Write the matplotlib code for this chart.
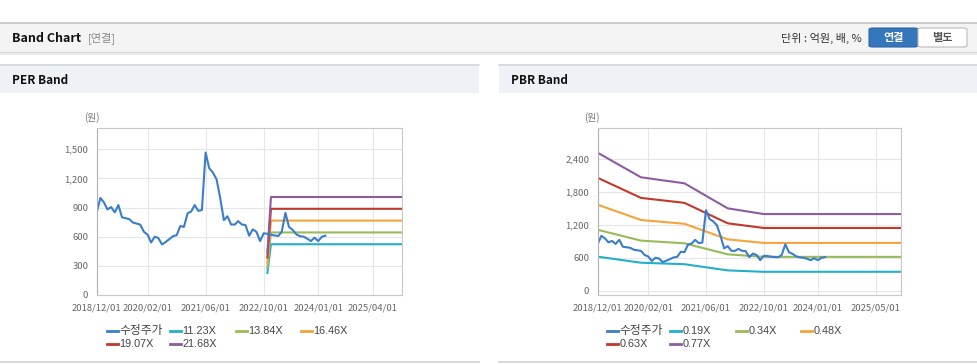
from matplotlib import pyplot as plt, patches
from matplotlib.lines import Line2D
import numpy as np
import pandas as pd

plt.rcParams['font.family'] = ['Noto Sans CJK KR', 'DejaVu Sans']

W, H = 978, 364

# monthly adjusted price (수정주가), 2018-12 .. 2024-03
price_dates = pd.date_range('2018-12-01', '2024-03-01', freq='MS')
price = [850, 998, 950, 880, 905, 850, 925, 800, 790, 780, 745, 735,
         724, 650, 620, 540, 600, 585, 520, 545, 575, 605, 615, 710,
         700, 840, 860, 925, 865, 875, 1465, 1305, 1260, 1190, 1000, 770,
         810, 725, 725, 760, 725, 720, 610, 675, 650, 555, 635, 630,
         620, 612, 608, 650, 845, 700, 670, 625, 605, 600, 580, 555,
         590, 555, 600, 610]

# PER band: EPS used for band lines
eps_dates = ['2022-11-01', '2022-12-01', '2025-12-01']
eps = [20.2, 46.5, 46.5]
per_mult = [11.23, 13.84, 16.46, 19.07, 21.68]
per_labels = ['11.23X', '13.84X', '16.46X', '19.07X', '21.68X']

# PBR band: BPS used for band lines
bps_dates = ['2018-12-01', '2019-12-01', '2020-12-01', '2021-12-01',
             '2022-07-01', '2022-10-01', '2025-12-01']
bps = [3258, 2678, 2536, 1945, 1851, 1810, 1810]
pbr_mult = [0.19, 0.34, 0.48, 0.63, 0.77]
pbr_labels = ['0.19X', '0.34X', '0.48X', '0.63X', '0.77X']

per_ticks = ['2018-12-01', '2020-02-01', '2021-06-01', '2022-10-01', '2024-01-01', '2025-04-01']
pbr_ticks = ['2018-12-01', '2020-02-01', '2021-06-01', '2022-10-01', '2024-01-01', '2025-05-01']

price_color = '#3a7dc9'
band_colors = ['#22b0c8', '#98bb5a', '#f4a43c', '#c0392b', '#8e5ba0']


def fx(x):
    return x / W


def fy(y):
    return 1 - y / H


fig = plt.figure(figsize=(W / 100, H / 100), dpi=100)
fig.patch.set_facecolor('white')


def rect(x0, y0, x1, y1, fc):
    r = patches.Rectangle((fx(x0), fy(y1)), fx(x1) - fx(x0), fy(y0) - fy(y1),
                          transform=fig.transFigure, facecolor=fc, edgecolor='none')
    fig.add_artist(r)


def hline(x0, x1, y, color, lw=1):
    fig.add_artist(Line2D([fx(x0), fx(x1)], [fy(y), fy(y)], transform=fig.transFigure,
                          color=color, linewidth=lw))


# top bar
rect(0, 22, W, 52, '#f4f4f4')
hline(0, W, 22.5, '#c4c4c4', 1.2)
hline(0, W, 52.5, '#d0d0d0', 1.2)
hline(0, W, 54, '#ececec', 1.5)
fig.text(fx(12), fy(38), 'Band Chart', fontsize=9, fontweight='bold', va='center', color='#111')
fig.text(fx(88), fy(38), '[연결]', fontsize=8, va='center', color='#888888')
fig.text(fx(862), fy(38), '단위 : 억원, 배, %', fontsize=8, va='center', ha='right', color='#333')
b1 = patches.FancyBboxPatch((fx(869), fy(47)), fx(49), 19 / H, boxstyle='round,pad=0,rounding_size=0.004',
                            transform=fig.transFigure, facecolor='#3577bb', edgecolor='#2d68a6', linewidth=0.8)
fig.add_artist(b1)
b2 = patches.FancyBboxPatch((fx(918), fy(47)), fx(49), 19 / H, boxstyle='round,pad=0,rounding_size=0.004',
                            transform=fig.transFigure, facecolor='white', edgecolor='#bbbbbb', linewidth=0.8)
fig.add_artist(b2)
fig.text(fx(893.5), fy(38), '연결', fontsize=8, fontweight='bold', va='center', ha='center', color='white')
fig.text(fx(942.5), fy(38), '별도', fontsize=8, fontweight='bold', va='center', ha='center', color='#555')

# panel headers
for x0, x1, title in [(0, 479, 'PER Band'), (499, W, 'PBR Band')]:
    rect(x0, 64, x1, 93, '#eef2f7')
    hline(x0, x1, 64.5, '#d4d8dc', 1.2)
    hline(x0, x1, 362, '#d4d4d4', 1.2)
    fig.text(fx(x0 + 12), fy(80), title, fontsize=8.5, fontweight='bold', va='center', color='#111')


def setup_axes(ax, ylim, yticks, ticks):
    ax.set_xlim(pd.Timestamp('2018-12-01'), pd.Timestamp('2025-12-01'))
    ax.set_ylim(*ylim)
    ax.set_yticks(yticks)
    ax.set_yticklabels([f'{v:,}' for v in yticks])
    tk = pd.to_datetime(ticks)
    ax.set_xticks(tk)
    ax.set_xticklabels([t.strftime('%Y/%m/%d') for t in tk])
    ax.grid(True, color='#e6e6e6', linewidth=0.8)
    ax.set_axisbelow(True)
    for s in ax.spines.values():
        s.set_color('#c8c8c8')
        s.set_linewidth(0.8)
    ax.spines['left'].set_color('#b0b0b0')
    ax.tick_params(length=0, labelsize=6.8, colors='#666666', pad=6)


def legend(x0, y0, labels):
    cols = [x0, x0 + 63.3, x0 + 129.3, x0 + 194]
    items = [('수정주가', price_color)] + list(zip(labels, band_colors))
    for i, (lab, c) in enumerate(items):
        x = cols[i % 4]
        y = y0 + 13.7 * (i // 4)
        fig.add_artist(Line2D([fx(x), fx(x + 11)], [fy(y), fy(y)], transform=fig.transFigure,
                              color=c, linewidth=2))
        fig.text(fx(x + 12.5), fy(y), lab, fontsize=8.5 if i == 0 else 7.8, va='center',
                 color='#444', family=['Liberation Sans', 'Noto Sans CJK KR'])


# PER chart
ax1 = fig.add_axes([fx(96.7), fy(295), fx(401.7) - fx(96.7), fy(128.3) - fy(295)])
setup_axes(ax1, (0, 1715), [0, 300, 600, 900, 1200, 1500], per_ticks)
ed = pd.to_datetime(eps_dates)
for m, c in zip(per_mult, band_colors):
    ax1.plot(ed, [m * e for e in eps], color=c, linewidth=1.5)
ax1.plot(price_dates, price, color=price_color, linewidth=1.5)
fig.text(fx(92), fy(118), '(원)', fontsize=7, ha='center', va='center', color='#777')
legend(106.7, 330.7, per_labels)

# PBR chart
ax2 = fig.add_axes([fx(597.7), fy(295), fx(901) - fx(597.7), fy(128.3) - fy(295)])
setup_axes(ax2, (-78, 2953), [0, 600, 1200, 1800, 2400], pbr_ticks)
bd = pd.to_datetime(bps_dates)
for m, c in zip(pbr_mult, band_colors):
    ax2.plot(bd, [m * b for b in bps], color=c, linewidth=1.5)
ax2.plot(price_dates, price, color=price_color, linewidth=1.5)
fig.text(fx(592), fy(118), '(원)', fontsize=7, ha='center', va='center', color='#777')
legend(606.7, 330.7, pbr_labels)

fig.savefig('out.png', dpi=100)
